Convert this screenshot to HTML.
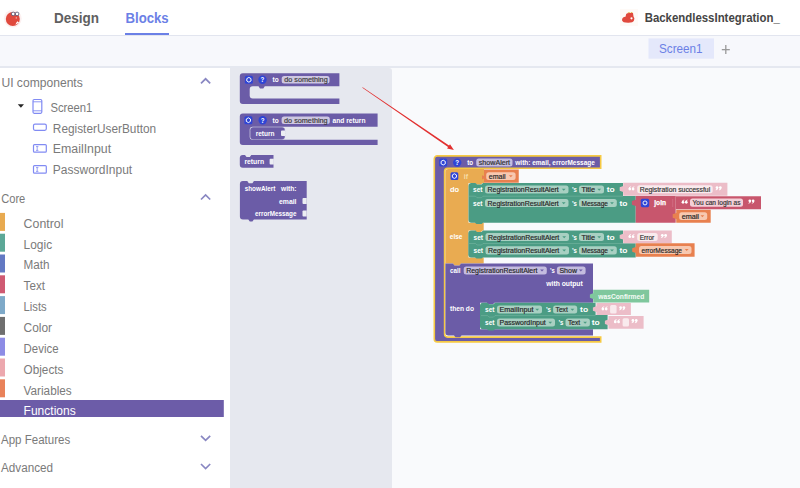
<!DOCTYPE html>
<html><head><meta charset="utf-8">
<style>
*{margin:0;padding:0;box-sizing:border-box}
html,body{width:800px;height:488px;overflow:hidden;background:#fff;font-family:"Liberation Sans",sans-serif}
.a{position:absolute}
</style></head><body>
<div class="a" style="left:0;top:35px;width:800px;height:31px;background:#f7f8fc;border-top:1px solid #e2e5ef"></div>
<div class="a" style="left:0;top:66px;width:800px;height:2px;background:#e5e8f0"></div>
<div class="a" style="left:230px;top:68px;width:570px;height:420px;background:#f9fafc"></div>
<div class="a" style="left:230px;top:68px;width:161.5px;height:420px;background:#e6e8ef;border-top-right-radius:3px"></div>
<svg style="position:absolute;left:0;top:0" width="800" height="488" viewBox="0 0 800 488" font-family="Liberation Sans, sans-serif">
<circle cx="12.8" cy="18.6" r="8.9" fill="#fcf0f0"/>
<circle cx="12.8" cy="19" r="7" fill="#e0493d"/>
<path d="M15.3 24.8 L17.2 21.2 L19.2 22.6 Z" fill="#fff"/>
<circle cx="16.3" cy="17.9" r="0.7" fill="#f3c9c5"/>
<circle cx="13.2" cy="13.9" r="1.8" fill="#fff" stroke="#4d5370" stroke-width="0.8"/>
<circle cx="17.1" cy="13.9" r="1.8" fill="#fff" stroke="#4d5370" stroke-width="0.8"/>
<text x="54" y="23.3" font-size="14" fill="#606060" font-weight="bold" textLength="45" lengthAdjust="spacingAndGlyphs" >Design</text>
<text x="125.5" y="23.3" font-size="14" fill="#6b80e6" font-weight="bold" textLength="43.2" lengthAdjust="spacingAndGlyphs" >Blocks</text>
<rect x="125" y="33" width="44" height="2" rx="0" fill="#6b80e6" />
<rect x="620" y="9" width="18" height="17" rx="0" fill="#fefaf7" />
<path d="M622 20.2 Q622 17 625.5 16.8 L626.2 14 Q627 12.8 629.5 12.9 L633 13 L633.5 16.5 Q635 18 634 20.5 Q633 22.8 628 22.7 Q622.5 22.7 622 20.2Z" fill="#e0493d" />
<path d="M627.5 13 L629 11.9 L630.3 12.9 L631.6 11.9 L633 13 Z" fill="#e2b23c" />
<circle cx="631.5" cy="18.3" r="1.1" fill="#fff"/>
<text x="644.7" y="21.7" font-size="12" fill="#454545" font-weight="bold" textLength="135.1" lengthAdjust="spacingAndGlyphs" >BackendlessIntegration_</text>
<rect x="648.5" y="38.4" width="65.5" height="20.3" rx="0" fill="#e4e8fb" />
<text x="659" y="53.199999999999996" font-size="12.5" fill="#6b80e6" font-weight="normal" textLength="43.6" lengthAdjust="spacingAndGlyphs" >Screen1</text>
<rect x="721.8" y="49" width="8" height="1.3" rx="0" fill="#9a9a9a" />
<rect x="725.15" y="45" width="1.3" height="9" rx="0" fill="#9a9a9a" />
<text x="1.4" y="86.9" font-size="12.5" fill="#7a7a7a" font-weight="normal" textLength="81.4" lengthAdjust="spacingAndGlyphs" >UI components</text>
<path d="M201 83.3 L205.6 78.8 L210.2 83.3" stroke="#8987c2" stroke-width="1.7" fill="none"/>
<path d="M17.8 104.2 H24 L20.9 107.8Z" fill="#262626" />
<rect x="33" y="99.5" width="8.8" height="13.8" rx="1.2" fill="none" stroke="#818bf3" stroke-width="1.2"/>
<line x1="33" y1="101.8" x2="41.8" y2="101.8" stroke="#818bf3" stroke-width="0.9"/><line x1="33" y1="110.8" x2="41.8" y2="110.8" stroke="#818bf3" stroke-width="0.9"/>
<text x="50.4" y="112.4" font-size="12.5" fill="#7a7a7a" font-weight="normal" textLength="42" lengthAdjust="spacingAndGlyphs" >Screen1</text>
<rect x="33.5" y="124.1" width="12.8" height="6.2" rx="1.5" fill="none" stroke="#818bf3" stroke-width="1.2"/>
<text x="52.85" y="132.70000000000002" font-size="12.5" fill="#7a7a7a" font-weight="normal" textLength="103.3" lengthAdjust="spacingAndGlyphs" >RegisterUserButton</text>
<rect x="33.5" y="144.6" width="12.8" height="7.6" rx="1" fill="none" stroke="#818bf3" stroke-width="1.2"/>
<path d="M36 146.6 h2.4 M37.2 146.6 v3.8 M36 150.4 h2.4" stroke="#818bf3" stroke-width="0.8"/>
<text x="52.85" y="153.1" font-size="12.5" fill="#7a7a7a" font-weight="normal" textLength="58.3" lengthAdjust="spacingAndGlyphs" >EmailInput</text>
<rect x="33.5" y="165.6" width="12.8" height="7.6" rx="1" fill="none" stroke="#818bf3" stroke-width="1.2"/>
<path d="M36 167.6 h2.4 M37.2 167.6 v3.8 M36 171.4 h2.4" stroke="#818bf3" stroke-width="0.8"/>
<text x="52.85" y="174.1" font-size="12.5" fill="#7a7a7a" font-weight="normal" textLength="79.3" lengthAdjust="spacingAndGlyphs" >PasswordInput</text>
<text x="1.2" y="203.1" font-size="12.5" fill="#7a7a7a" font-weight="normal" textLength="24.1" lengthAdjust="spacingAndGlyphs" >Core</text>
<path d="M201 199.5 L205.6 195.0 L210.2 199.5" stroke="#8987c2" stroke-width="1.7" fill="none"/>
<rect x="0" y="212.9" width="5" height="18" rx="0" fill="#e8aa50" />
<text x="23.6" y="227.70000000000002" font-size="12.5" fill="#7a7a7a" font-weight="normal" textLength="39.8" lengthAdjust="spacingAndGlyphs" >Control</text>
<rect x="0" y="233.70000000000002" width="5" height="18" rx="0" fill="#5ca897" />
<text x="23.6" y="248.55" font-size="12.5" fill="#7a7a7a" font-weight="normal" textLength="28.5" lengthAdjust="spacingAndGlyphs" >Logic</text>
<rect x="0" y="254.5" width="5" height="18" rx="0" fill="#6379c3" />
<text x="23.6" y="269.4" font-size="12.5" fill="#7a7a7a" font-weight="normal" textLength="26" lengthAdjust="spacingAndGlyphs" >Math</text>
<rect x="0" y="275.3" width="5" height="18" rx="0" fill="#cf5a72" />
<text x="23.6" y="290.25" font-size="12.5" fill="#7a7a7a" font-weight="normal" textLength="21.4" lengthAdjust="spacingAndGlyphs" >Text</text>
<rect x="0" y="296.1" width="5" height="18" rx="0" fill="#7ea9c8" />
<text x="23.6" y="311.1" font-size="12.5" fill="#7a7a7a" font-weight="normal" textLength="23.1" lengthAdjust="spacingAndGlyphs" >Lists</text>
<rect x="0" y="316.9" width="5" height="18" rx="0" fill="#6f6f6f" />
<text x="23.6" y="331.95" font-size="12.5" fill="#7a7a7a" font-weight="normal" textLength="28.5" lengthAdjust="spacingAndGlyphs" >Color</text>
<rect x="0" y="337.70000000000005" width="5" height="18" rx="0" fill="#8d8ce5" />
<text x="23.6" y="352.8" font-size="12.5" fill="#7a7a7a" font-weight="normal" textLength="34.9" lengthAdjust="spacingAndGlyphs" >Device</text>
<rect x="0" y="358.5" width="5" height="18" rx="0" fill="#eca8ae" />
<text x="23.6" y="373.65" font-size="12.5" fill="#7a7a7a" font-weight="normal" textLength="39.8" lengthAdjust="spacingAndGlyphs" >Objects</text>
<rect x="0" y="379.3" width="5" height="18" rx="0" fill="#e9825a" />
<text x="23.6" y="394.5" font-size="12.5" fill="#7a7a7a" font-weight="normal" textLength="48.1" lengthAdjust="spacingAndGlyphs" >Variables</text>
<rect x="0" y="400" width="223.8" height="17" rx="0" fill="#6c5ca8" />
<text x="23.6" y="414.59999999999997" font-size="12.5" fill="#fff" font-weight="normal" textLength="52.1" lengthAdjust="spacingAndGlyphs" >Functions</text>
<text x="1" y="443.9" font-size="12.5" fill="#7a7a7a" font-weight="normal" textLength="69.2" lengthAdjust="spacingAndGlyphs" >App Features</text>
<path d="M201 435.8 L205.6 440.3 L210.2 435.8" stroke="#8987c2" stroke-width="1.7" fill="none"/>
<text x="1" y="471.79999999999995" font-size="12.5" fill="#7a7a7a" font-weight="normal" textLength="52" lengthAdjust="spacingAndGlyphs" >Advanced</text>
<path d="M201 464.0 L205.6 468.5 L210.2 464.0" stroke="#8987c2" stroke-width="1.7" fill="none"/>
<path d="M239.8 76.2 a3 3 0 0 1 3 -3 H339.4 V86.3 H264.8 l-1.5 2.2 h-3.3 l-1.5 -2.2 H252.7 a3 3 0 0 0 -3 3 V95.5 a3 3 0 0 0 3 3 H339.4 V104 H242.8 a3 3 0 0 1 -3 -3 Z" fill="#6b5ca7" />
<rect x="244.9" y="75.8" width="8" height="8" rx="1.5" fill="#2f45d6" />
<polygon points="250.98,81.00 248.90,82.20 246.82,81.00 246.82,78.60 248.90,77.40 250.98,78.60" fill="none" stroke="#fff" stroke-width="0.95"/>
<circle cx="262.5" cy="79.8" r="4.2" fill="#2f45d6"/>
<text x="260.6" y="82.3" font-size="7" fill="#fff" font-weight="bold" textLength="3.8" lengthAdjust="spacingAndGlyphs" >?</text>
<text x="272.5" y="82.3" font-size="7" fill="#fff" font-weight="bold" textLength="6.1" lengthAdjust="spacingAndGlyphs" >to</text>
<rect x="281.7" y="76" width="47.8" height="7.4" rx="2.5" fill="#cdc7e1" />
<text x="284.2" y="82.2" font-size="7" fill="#3b3b3b" font-weight="normal" textLength="43.5" lengthAdjust="spacingAndGlyphs" stroke="#3b3b3b" stroke-width="0.18">do something</text>
<path d="M239.8 116.6 a3 3 0 0 1 3 -3 H377.6 V126.8 H252.7 a3 3 0 0 0 -3 3 V136.8 a3 3 0 0 0 3 3 H377.6 V145 H242.8 a3 3 0 0 1 -3 -3 Z" fill="#6b5ca7" />
<rect x="244.4" y="116.2" width="8" height="8" rx="1.5" fill="#2f45d6" />
<polygon points="250.48,121.40 248.40,122.60 246.32,121.40 246.32,119.00 248.40,117.80 250.48,119.00" fill="none" stroke="#fff" stroke-width="0.95"/>
<circle cx="262.7" cy="120.2" r="4.2" fill="#2f45d6"/>
<text x="260.8" y="122.7" font-size="7" fill="#fff" font-weight="bold" textLength="3.8" lengthAdjust="spacingAndGlyphs" >?</text>
<text x="272.6" y="122.7" font-size="7" fill="#fff" font-weight="bold" textLength="6.1" lengthAdjust="spacingAndGlyphs" >to</text>
<rect x="281.6" y="116.4" width="48.2" height="7.6" rx="2.5" fill="#cdc7e1" />
<text x="284.1" y="122.7" font-size="7" fill="#3b3b3b" font-weight="normal" textLength="43.5" lengthAdjust="spacingAndGlyphs" stroke="#3b3b3b" stroke-width="0.18">do something</text>
<text x="332.6" y="122.7" font-size="7" fill="#fff" font-weight="bold" textLength="32.9" lengthAdjust="spacingAndGlyphs" >and return</text>
<rect x="250.3" y="127.2" width="34.5" height="12.2" rx="3" fill="#6b5ca7" stroke="#8d82c0" stroke-width="0.5" stroke-dasharray="1 0.8"/>
<text x="255.7" y="135.6" font-size="7" fill="#fff" font-weight="bold" textLength="18.8" lengthAdjust="spacingAndGlyphs" >return</text>
<path d="M285.2 130.6 H281.9 a0.9 0.9 0 0 0 -0.9 0.9 V135.1 a0.9 0.9 0 0 0 0.9 0.9 H285.2Z" fill="#eceef3" />
<path d="M242.8 154.9 H245 l1.5 2 h3.3 l1.5 -2 H273.5 V167.7 H242.8 a3 3 0 0 1 -3 -3 V157.9 a3 3 0 0 1 3 -3Z" fill="#6b5ca7" />
<text x="244.4" y="164.0" font-size="7" fill="#fff" font-weight="bold" textLength="19.7" lengthAdjust="spacingAndGlyphs" >return</text>
<path d="M273.8 158.8 H270.5 a0.9 0.9 0 0 0 -0.9 0.9 V163.5 a0.9 0.9 0 0 0 0.9 0.9 H273.8Z" fill="#eceef3" />
<path d="M242.9 181.1 H247.3 l1.5 2.2 h3.6 l1.5 -2.2 H306.7 V219.6 H253.9 l-1.5 2 h-2.6 l-1.5 -2 H242.9 a3 3 0 0 1 -3 -3 V184.1 a3 3 0 0 1 3 -3Z" fill="#6b5ca7" />
<text x="244.7" y="190.8" font-size="7" fill="#fff" font-weight="bold" textLength="30.7" lengthAdjust="spacingAndGlyphs" >showAlert</text>
<text x="281" y="190.8" font-size="7" fill="#fff" font-weight="bold" textLength="15.5" lengthAdjust="spacingAndGlyphs" >with:</text>
<text x="279" y="203.6" font-size="7" fill="#fff" font-weight="bold" textLength="17.5" lengthAdjust="spacingAndGlyphs" >email</text>
<text x="255" y="216.4" font-size="7" fill="#fff" font-weight="bold" textLength="41.5" lengthAdjust="spacingAndGlyphs" >errorMessage</text>
<path d="M306.7 198.1 H303.4 a0.9 0.9 0 0 0 -0.9 0.9 V203.0 a0.9 0.9 0 0 0 0.9 0.9 H306.7Z" fill="#eceef3" />
<path d="M306.7 210.6 H303.4 a0.9 0.9 0 0 0 -0.9 0.9 V215.5 a0.9 0.9 0 0 0 0.9 0.9 H306.7Z" fill="#eceef3" />
<path d="M434.3 159 a3 3 0 0 1 3 -3.1 H600.7 V168.25 H447.6 a3 3 0 0 0 -3 3 V334.1 a3 3 0 0 0 3 3 H600.7 V341.9 H437.3 a3 3 0 0 1 -3 -3 Z" fill="#6b5ca7" stroke="#f6c944" stroke-width="1.6"/>
<rect x="439.2" y="158.6" width="8" height="8" rx="1.5" fill="#2f45d6" />
<polygon points="445.28,163.80 443.20,165.00 441.12,163.80 441.12,161.40 443.20,160.20 445.28,161.40" fill="none" stroke="#fff" stroke-width="0.95"/>
<circle cx="457.2" cy="162.6" r="4.2" fill="#2f45d6"/>
<text x="455.3" y="165.1" font-size="7" fill="#fff" font-weight="bold" textLength="3.8" lengthAdjust="spacingAndGlyphs" >?</text>
<text x="467.25" y="165.2" font-size="7" fill="#fff" font-weight="bold" textLength="5.9" lengthAdjust="spacingAndGlyphs" >to</text>
<rect x="476.25" y="158.5" width="36.25" height="8" rx="2.5" fill="#c4bcdf" />
<text x="478.75" y="165.0" font-size="7" fill="#333" font-weight="normal" textLength="31.3" lengthAdjust="spacingAndGlyphs" stroke="#333" stroke-width="0.18">showAlert</text>
<text x="515.3" y="165.2" font-size="7" fill="#fff" font-weight="bold" textLength="79.5" lengthAdjust="spacingAndGlyphs" >with: email, errorMessage</text>
<path d="M445.4 172 a3 3 0 0 1 3 -3 H484 V183 H482.5 l-1.5 1.5 h-4.5 l-1.5 -1.5 H468.5 V222.7 H483.7 V230.4 H482.5 l-1.5 1.5 h-4.5 l-1.5 -1.5 H468.5 V257.4 H483.7 V263.6 H461 l-1.5 2 h-5 l-1.5 -2 H445.4 Z" fill="#e9ab51" />
<rect x="450.5" y="172.2" width="7.8" height="7.8" rx="1.5" fill="#2f45d6" />
<polygon points="456.43,177.27 454.40,178.44 452.37,177.27 452.37,174.93 454.40,173.76 456.43,174.93" fill="none" stroke="#fff" stroke-width="0.95"/>
<text x="463.7" y="178.8" font-size="7" fill="#f6dca5" font-weight="bold" textLength="4.3" lengthAdjust="spacingAndGlyphs" >if</text>
<text x="450" y="191.6" font-size="7" fill="#fff" font-weight="bold" textLength="9.2" lengthAdjust="spacingAndGlyphs" >do</text>
<text x="449.8" y="239.4" font-size="7" fill="#fff" font-weight="bold" textLength="12.6" lengthAdjust="spacingAndGlyphs" >else</text>
<path d="M484 169.4 H518.75 V182.75 H484 V178.6 l-2 0.8 v-4.2 l2 0.8Z" fill="#e8804f" />
<rect x="486.25" y="172.25" width="29.35" height="7.75" rx="2.5" fill="#f7c8b0" />
<text x="488.75" y="178.625" font-size="7" fill="#262626" font-weight="normal" textLength="16.9" lengthAdjust="spacingAndGlyphs" stroke="#262626" stroke-width="0.18">email</text>
<path d="M508.90000000000003 175.225 h3.8 l-1.9 2z" fill="#e8804f" />
<path d="M471.5 183 H475.5 l1.5 1.5 h4.5 l1.5 -1.5 H623 V196 H635.7 V222.7 H483 l-1.5 1.2 h-5 l-1.5 -1.2 H471.5 a3 3 0 0 1 -3 -3 V186 a3 3 0 0 1 3 -3Z" fill="#4b9c84" />
<text x="473" y="192.0" font-size="7" fill="#fff" font-weight="bold" textLength="9.5" lengthAdjust="spacingAndGlyphs" >set</text>
<rect x="485" y="185.5" width="83.5" height="8.1" rx="2.5" fill="#a8d0c2" />
<text x="487.5" y="192.05" font-size="7" fill="#262626" font-weight="normal" textLength="71.3" lengthAdjust="spacingAndGlyphs" stroke="#262626" stroke-width="0.18">RegistrationResultAlert</text>
<path d="M561.8 188.65 h3.8 l-1.9 2z" fill="#4b9c84" />
<text x="572" y="192.0" font-size="7" fill="#fff" font-weight="bold" textLength="4.8" lengthAdjust="spacingAndGlyphs" >’s</text>
<rect x="579" y="185.5" width="25" height="8.1" rx="2.5" fill="#a8d0c2" />
<text x="581.5" y="192.05" font-size="7" fill="#262626" font-weight="normal" textLength="13.5" lengthAdjust="spacingAndGlyphs" stroke="#262626" stroke-width="0.18">Title</text>
<path d="M597.3 188.65 h3.8 l-1.9 2z" fill="#4b9c84" />
<text x="606.8" y="192.0" font-size="7" fill="#fff" font-weight="bold" textLength="8" lengthAdjust="spacingAndGlyphs" >to</text>
<path d="M469 196.2 H475.5 l1.5 1.5 h4.5 l1.5 -1.5 H623" stroke="#7fbaa6" stroke-width="0.5" fill="none"/>
<text x="473" y="205.5" font-size="7" fill="#fff" font-weight="bold" textLength="9.5" lengthAdjust="spacingAndGlyphs" >set</text>
<rect x="485" y="199.0" width="83.5" height="8.1" rx="2.5" fill="#a8d0c2" />
<text x="487.5" y="205.55" font-size="7" fill="#262626" font-weight="normal" textLength="71.3" lengthAdjust="spacingAndGlyphs" stroke="#262626" stroke-width="0.18">RegistrationResultAlert</text>
<path d="M561.8 202.15 h3.8 l-1.9 2z" fill="#4b9c84" />
<text x="572" y="205.5" font-size="7" fill="#fff" font-weight="bold" textLength="4.8" lengthAdjust="spacingAndGlyphs" >’s</text>
<rect x="579" y="199.0" width="37.8" height="8.1" rx="2.5" fill="#a8d0c2" />
<text x="581.5" y="205.55" font-size="7" fill="#262626" font-weight="normal" textLength="26.5" lengthAdjust="spacingAndGlyphs" stroke="#262626" stroke-width="0.18">Message</text>
<path d="M610.0999999999999 202.15 h3.8 l-1.9 2z" fill="#4b9c84" />
<text x="619.5" y="205.5" font-size="7" fill="#fff" font-weight="bold" textLength="8" lengthAdjust="spacingAndGlyphs" >to</text>
<path d="M623.2 182.8 H727.4 V195.7 H623.2 V192 l-3.5 -1.2 v-3.5 l3.5 -1.2Z" fill="#ecbdc8" />
<circle cx="629.8" cy="189.05" r="1.35" fill="#fff"/>
<path d="M628.5 189.10000000000002 Q628.6 186.70000000000002 631.0 186.20000000000002 L631.1 187.0 Q629.9 187.4 629.8 188.5 Z" fill="#fff"/>
<circle cx="633.0999999999999" cy="189.05" r="1.35" fill="#fff"/>
<path d="M631.8 189.10000000000002 Q631.9 186.70000000000002 634.3 186.20000000000002 L634.4 187.0 Q633.1999999999999 187.4 633.0999999999999 188.5 Z" fill="#fff"/>
<circle cx="717.0" cy="187.55" r="1.35" fill="#fff"/>
<path d="M718.3000000000001 187.5 Q718.2 189.9 715.8000000000001 190.4 L715.7 189.60000000000002 Q716.9000000000001 189.20000000000002 717.0 188.10000000000002 Z" fill="#fff"/>
<circle cx="720.3" cy="187.55" r="1.35" fill="#fff"/>
<path d="M721.6 187.5 Q721.5 189.9 719.1 190.4 L719.0 189.60000000000002 Q720.2 189.20000000000002 720.3 188.10000000000002 Z" fill="#fff"/>
<rect x="637.2" y="185.2" width="75.5" height="8.1" rx="2.5" fill="#f9eaed" />
<text x="639.7" y="191.75" font-size="7" fill="#333" font-weight="normal" textLength="70.5" lengthAdjust="spacingAndGlyphs" stroke="#333" stroke-width="0.18">Registration successful</text>
<path d="M635.7 196 H675.7 V222.7 H635.7 V206 l-3.8 -1.3 v-3.6 l3.8 -1.3Z" fill="#c8566d" />
<rect x="640.8" y="198.7" width="8.4" height="8.5" rx="1.6" fill="#2f45d6" />
<circle cx="645" cy="202.95" r="2" fill="none" stroke="#fff" stroke-width="0.9"/>
<text x="654.3" y="205.2" font-size="7" fill="#fff" font-weight="bold" textLength="11.7" lengthAdjust="spacingAndGlyphs" stroke="#fff" stroke-width="0.25">join</text>
<line x1="672.7" y1="199.5" x2="672.7" y2="207" stroke="#e49aa9" stroke-width="0.6" stroke-dasharray="1 1"/>
<path d="M675.7 196.3 H761 V209.2 H675.7Z" fill="#c8566d" />
<circle cx="683.0" cy="202.35" r="1.35" fill="#fff"/>
<path d="M681.7 202.4 Q681.8000000000001 200.0 684.2 199.5 L684.3000000000001 200.29999999999998 Q683.1 200.7 683.0 201.79999999999998 Z" fill="#fff"/>
<circle cx="686.3" cy="202.35" r="1.35" fill="#fff"/>
<path d="M685.0 202.4 Q685.1 200.0 687.5 199.5 L687.6 200.29999999999998 Q686.4 200.7 686.3 201.79999999999998 Z" fill="#fff"/>
<circle cx="749.8" cy="200.85" r="1.35" fill="#fff"/>
<path d="M751.1 200.79999999999998 Q751.0 203.2 748.6 203.7 L748.5 202.9 Q749.7 202.5 749.8 201.4 Z" fill="#fff"/>
<circle cx="753.0999999999999" cy="200.85" r="1.35" fill="#fff"/>
<path d="M754.4 200.79999999999998 Q754.3 203.2 751.9 203.7 L751.8 202.9 Q753.0 202.5 753.0999999999999 201.4 Z" fill="#fff"/>
<rect x="690" y="198.6" width="53" height="8.2" rx="2.5" fill="#f3d0d8" />
<text x="692.5" y="205.2" font-size="7" fill="#333" font-weight="normal" textLength="48" lengthAdjust="spacingAndGlyphs" stroke="#333" stroke-width="0.18">You can login as</text>
<path d="M676.2 209.8 H710.7 V222.7 H676.2 V219 l-3.5 -1.2 v-3.5 l3.5 -1.2Z" fill="#e8804f" />
<rect x="679.2" y="212.2" width="28" height="7.8" rx="2.5" fill="#f7c8b0" />
<text x="681.7" y="218.6" font-size="7" fill="#262626" font-weight="normal" textLength="17.3" lengthAdjust="spacingAndGlyphs" stroke="#262626" stroke-width="0.18">email</text>
<path d="M700.5 215.2 h3.8 l-1.9 2z" fill="#e8804f" />
<path d="M471.3 230.4 H475.5 l1.5 1.5 h4.5 l1.5 -1.5 H623 V243.3 H635.7 V257.4 H483 l-1.5 1.2 h-5 l-1.5 -1.2 H471.3 a3 3 0 0 1 -3 -3 V233.4 a3 3 0 0 1 3 -3Z" fill="#4b9c84" />
<text x="473.5" y="239.5" font-size="7" fill="#fff" font-weight="bold" textLength="9.5" lengthAdjust="spacingAndGlyphs" >set</text>
<rect x="485.5" y="233.0" width="83.5" height="8.1" rx="2.5" fill="#a8d0c2" />
<text x="488.0" y="239.55" font-size="7" fill="#262626" font-weight="normal" textLength="71.3" lengthAdjust="spacingAndGlyphs" stroke="#262626" stroke-width="0.18">RegistrationResultAlert</text>
<path d="M562.3 236.15 h3.8 l-1.9 2z" fill="#4b9c84" />
<text x="572" y="239.5" font-size="7" fill="#fff" font-weight="bold" textLength="4.8" lengthAdjust="spacingAndGlyphs" >’s</text>
<rect x="579" y="233.0" width="25" height="8.1" rx="2.5" fill="#a8d0c2" />
<text x="581.5" y="239.55" font-size="7" fill="#262626" font-weight="normal" textLength="13.5" lengthAdjust="spacingAndGlyphs" stroke="#262626" stroke-width="0.18">Title</text>
<path d="M597.3 236.15 h3.8 l-1.9 2z" fill="#4b9c84" />
<text x="606.8" y="239.5" font-size="7" fill="#fff" font-weight="bold" textLength="8" lengthAdjust="spacingAndGlyphs" >to</text>
<path d="M469 243.5 H475.5 l1.5 1.5 h4.5 l1.5 -1.5 H623" stroke="#7fbaa6" stroke-width="0.5" fill="none"/>
<text x="473.5" y="252.8" font-size="7" fill="#fff" font-weight="bold" textLength="9.5" lengthAdjust="spacingAndGlyphs" >set</text>
<rect x="485.5" y="246.3" width="83.5" height="8.1" rx="2.5" fill="#a8d0c2" />
<text x="488.0" y="252.85000000000002" font-size="7" fill="#262626" font-weight="normal" textLength="71.3" lengthAdjust="spacingAndGlyphs" stroke="#262626" stroke-width="0.18">RegistrationResultAlert</text>
<path d="M562.3 249.45000000000002 h3.8 l-1.9 2z" fill="#4b9c84" />
<text x="572" y="252.8" font-size="7" fill="#fff" font-weight="bold" textLength="4.8" lengthAdjust="spacingAndGlyphs" >’s</text>
<rect x="579" y="246.3" width="37.8" height="8.1" rx="2.5" fill="#a8d0c2" />
<text x="581.5" y="252.85000000000002" font-size="7" fill="#262626" font-weight="normal" textLength="26.5" lengthAdjust="spacingAndGlyphs" stroke="#262626" stroke-width="0.18">Message</text>
<path d="M610.0999999999999 249.45000000000002 h3.8 l-1.9 2z" fill="#4b9c84" />
<text x="619.5" y="252.8" font-size="7" fill="#fff" font-weight="bold" textLength="8" lengthAdjust="spacingAndGlyphs" >to</text>
<path d="M623.2 230.6 H671.8 V243.3 H623.2 V239.6 l-3.5 -1.2 v-3.5 l3.5 -1.2Z" fill="#ecbdc8" />
<circle cx="629.8" cy="236.75" r="1.35" fill="#fff"/>
<path d="M628.5 236.8 Q628.6 234.4 631.0 233.9 L631.1 234.7 Q629.9 235.1 629.8 236.2 Z" fill="#fff"/>
<circle cx="633.0999999999999" cy="236.75" r="1.35" fill="#fff"/>
<path d="M631.8 236.8 Q631.9 234.4 634.3 233.9 L634.4 234.7 Q633.1999999999999 235.1 633.0999999999999 236.2 Z" fill="#fff"/>
<circle cx="662.3" cy="235.25" r="1.35" fill="#fff"/>
<path d="M663.6 235.2 Q663.5 237.6 661.1 238.1 L661 237.3 Q662.2 236.9 662.3 235.8 Z" fill="#fff"/>
<circle cx="665.5999999999999" cy="235.25" r="1.35" fill="#fff"/>
<path d="M666.9 235.2 Q666.8 237.6 664.4 238.1 L664.3 237.3 Q665.5 236.9 665.5999999999999 235.8 Z" fill="#fff"/>
<rect x="637.2" y="233" width="20.5" height="8.1" rx="2.5" fill="#f9eaed" />
<text x="639.7" y="239.55" font-size="7" fill="#333" font-weight="normal" textLength="14.5" lengthAdjust="spacingAndGlyphs" stroke="#333" stroke-width="0.18">Error</text>
<path d="M635.7 243.3 H694.6 V256.7 H635.7 V253 l-3.5 -1.2 v-3.5 l3.5 -1.2Z" fill="#e8804f" />
<rect x="639" y="246" width="52.5" height="8.0" rx="2.5" fill="#f7c8b0" />
<text x="641.5" y="252.5" font-size="7" fill="#262626" font-weight="normal" textLength="40.5" lengthAdjust="spacingAndGlyphs" stroke="#262626" stroke-width="0.18">errorMessage</text>
<path d="M684.8 249.1 h3.8 l-1.9 2z" fill="#e8804f" />
<path d="M445.4 263.6 H453 l1.5 2 h5 l1.5 -2 H593 V302.8 H494.5 l-1.5 1.5 h-4.5 l-1.5 -1.5 H480 V329.2 H593 V335.6 H461.5 l-1.5 1.6 h-4.5 l-1.5 -1.6 H448.4 a3 3 0 0 1 -3 -3 Z" fill="#6b5ca7" />
<text x="450" y="273.0" font-size="7" fill="#fff" font-weight="bold" textLength="10.5" lengthAdjust="spacingAndGlyphs" >call</text>
<rect x="463.7" y="266.4" width="83.1" height="8" rx="2.5" fill="#c4bcdf" />
<text x="466.2" y="272.9" font-size="7" fill="#262626" font-weight="normal" textLength="71.3" lengthAdjust="spacingAndGlyphs" stroke="#262626" stroke-width="0.18">RegistrationResultAlert</text>
<path d="M540.0999999999999 269.5 h3.8 l-1.9 2z" fill="#6b5ca7" />
<text x="550" y="273.0" font-size="7" fill="#fff" font-weight="bold" textLength="4.7" lengthAdjust="spacingAndGlyphs" >’s</text>
<rect x="556.9" y="266.4" width="28.7" height="8" rx="2.5" fill="#c4bcdf" />
<text x="559.4" y="272.9" font-size="7" fill="#262626" font-weight="normal" textLength="17.6" lengthAdjust="spacingAndGlyphs" stroke="#262626" stroke-width="0.18">Show</text>
<path d="M578.9 269.5 h3.8 l-1.9 2z" fill="#6b5ca7" />
<text x="546.25" y="286.1" font-size="7" fill="#fff" font-weight="bold" textLength="36.5" lengthAdjust="spacingAndGlyphs" >with output</text>
<path d="M593.2 289.7 H649.2 V302.6 H593.2 V299 l-3.3 -1.2 v-3.4 l3.3 -1.2Z" fill="#7fc79d" />
<text x="598.3" y="298.5" font-size="7" fill="#f4fbf6" font-weight="bold" textLength="46" lengthAdjust="spacingAndGlyphs" >wasConfirmed</text>
<text x="450" y="311.3" font-size="7" fill="#fff" font-weight="bold" textLength="24" lengthAdjust="spacingAndGlyphs" >then do</text>
<path d="M483 302.8 H487.5 l1.5 1.5 h4.5 l1.5 -1.5 H595.6 V315 H607.6 V329.2 H495 l-1.5 1.2 h-5 l-1.5 -1.2 H483 a3 3 0 0 1 -3 -3 V305.8 a3 3 0 0 1 3 -3Z" fill="#4b9c84" />
<text x="485" y="312.0" font-size="7" fill="#fff" font-weight="bold" textLength="9.5" lengthAdjust="spacingAndGlyphs" >set</text>
<rect x="497" y="305.5" width="45" height="8.1" rx="2.5" fill="#a8d0c2" />
<text x="499.5" y="312.05" font-size="7" fill="#262626" font-weight="normal" textLength="34" lengthAdjust="spacingAndGlyphs" stroke="#262626" stroke-width="0.18">EmailInput</text>
<path d="M535.3 308.65000000000003 h3.8 l-1.9 2z" fill="#4b9c84" />
<text x="546" y="312.0" font-size="7" fill="#fff" font-weight="bold" textLength="4.8" lengthAdjust="spacingAndGlyphs" >’s</text>
<rect x="553.1" y="305.5" width="24.1" height="8.1" rx="2.5" fill="#a8d0c2" />
<text x="555.6" y="312.05" font-size="7" fill="#262626" font-weight="normal" textLength="12.2" lengthAdjust="spacingAndGlyphs" stroke="#262626" stroke-width="0.18">Text</text>
<path d="M570.5 308.65000000000003 h3.8 l-1.9 2z" fill="#4b9c84" />
<text x="580.1" y="312.0" font-size="7" fill="#fff" font-weight="bold" textLength="8" lengthAdjust="spacingAndGlyphs" >to</text>
<path d="M481 315.6 H487.5 l1.5 1.5 h4.5 l1.5 -1.5 H595.6" stroke="#7fbaa6" stroke-width="0.5" fill="none"/>
<text x="485" y="325.0" font-size="7" fill="#fff" font-weight="bold" textLength="9.5" lengthAdjust="spacingAndGlyphs" >set</text>
<rect x="497" y="318.5" width="58" height="8.1" rx="2.5" fill="#a8d0c2" />
<text x="499.5" y="325.05" font-size="7" fill="#262626" font-weight="normal" textLength="46.3" lengthAdjust="spacingAndGlyphs" stroke="#262626" stroke-width="0.18">PasswordInput</text>
<path d="M548.3 321.65000000000003 h3.8 l-1.9 2z" fill="#4b9c84" />
<text x="558.5" y="325.0" font-size="7" fill="#fff" font-weight="bold" textLength="4.8" lengthAdjust="spacingAndGlyphs" >’s</text>
<rect x="565.5" y="318.5" width="24.4" height="8.1" rx="2.5" fill="#a8d0c2" />
<text x="568.0" y="325.05" font-size="7" fill="#262626" font-weight="normal" textLength="12.2" lengthAdjust="spacingAndGlyphs" stroke="#262626" stroke-width="0.18">Text</text>
<path d="M583.1999999999999 321.65000000000003 h3.8 l-1.9 2z" fill="#4b9c84" />
<text x="591.8" y="325.0" font-size="7" fill="#fff" font-weight="bold" textLength="8" lengthAdjust="spacingAndGlyphs" >to</text>
<path d="M596.4 303.1 H630.9 V315.1 H596.4 V311.9 l-3.5 -1.2 v-3.2 l3.5 -1.2Z" fill="#ecbdc8" />
<circle cx="602.9" cy="309.05" r="1.35" fill="#fff"/>
<path d="M601.6 309.1 Q601.7 306.7 604.1 306.2 L604.2 307.0 Q603.0 307.40000000000003 602.9 308.5 Z" fill="#fff"/>
<circle cx="606.1999999999999" cy="309.05" r="1.35" fill="#fff"/>
<path d="M604.9 309.1 Q605.0 306.7 607.4 306.2 L607.5 307.0 Q606.3 307.40000000000003 606.1999999999999 308.5 Z" fill="#fff"/>
<circle cx="620.5999999999999" cy="307.55" r="1.35" fill="#fff"/>
<path d="M621.9 307.5 Q621.8 309.90000000000003 619.4 310.40000000000003 L619.3 309.6 Q620.5 309.2 620.5999999999999 308.1 Z" fill="#fff"/>
<circle cx="623.8999999999999" cy="307.55" r="1.35" fill="#fff"/>
<path d="M625.1999999999999 307.5 Q625.0999999999999 309.90000000000003 622.6999999999999 310.40000000000003 L622.5999999999999 309.6 Q623.8 309.2 623.8999999999999 308.1 Z" fill="#fff"/>
<rect x="610.1" y="305.1" width="6.5" height="8.3" rx="1.5" fill="#f9eaed" />
<path d="M608.4 316 H643.6 V328.8 H608.4 V325.2 l-3.5 -1.2 v-3.2 l3.5 -1.2Z" fill="#ecbdc8" />
<circle cx="615.3" cy="321.95" r="1.35" fill="#fff"/>
<path d="M614.0 322.0 Q614.1 319.59999999999997 616.5 319.09999999999997 L616.6 319.9 Q615.4 320.3 615.3 321.4 Z" fill="#fff"/>
<circle cx="618.5999999999999" cy="321.95" r="1.35" fill="#fff"/>
<path d="M617.3 322.0 Q617.4 319.59999999999997 619.8 319.09999999999997 L619.9 319.9 Q618.6999999999999 320.3 618.5999999999999 321.4 Z" fill="#fff"/>
<circle cx="632.9" cy="320.45" r="1.35" fill="#fff"/>
<path d="M634.2 320.4 Q634.1 322.8 631.7 323.3 L631.6 322.5 Q632.8000000000001 322.09999999999997 632.9 321.0 Z" fill="#fff"/>
<circle cx="636.1999999999999" cy="320.45" r="1.35" fill="#fff"/>
<path d="M637.5 320.4 Q637.4 322.8 635.0 323.3 L634.9 322.5 Q636.1 322.09999999999997 636.1999999999999 321.0 Z" fill="#fff"/>
<rect x="622.6" y="318.2" width="6.4" height="8.3" rx="1.5" fill="#f9eaed" />
<path d="M362.33 87.65 L448.03 147.07 L447.07 148.47 L453.90 150.00 L450.01 144.18 L449.05 145.58 L362.67 87.15Z" fill="#e23030"/>
</svg>
</body></html>
